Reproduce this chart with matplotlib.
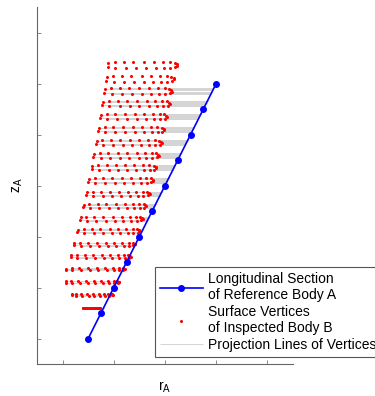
import numpy as np
import matplotlib.pyplot as plt
from matplotlib.collections import LineCollection

plt.rcParams['font.family'] = ['Liberation Sans', 'DejaVu Sans']
plt.rcParams['mathtext.default'] = 'regular'


# ---------------- BODY A: LONGITUDINAL SECTION ---------------- #
section_r = [1.5, 1.75, 2.0, 2.25, 2.5, 2.75, 3.0, 3.25, 3.5, 3.75, 4.0]
section_z = [1.0, 1.5, 2.0, 2.5, 3.0, 3.5, 4.0, 4.5, 5.0, 5.5, 6.0]

# ---------------- BODY B: RINGS OF SURFACE VERTICES ---------------- #
ring_z = [6.36, 6.09, 5.85, 5.61, 5.35, 5.09, 4.84, 4.59, 4.35, 4.10,
          3.84, 3.60, 3.35, 3.11, 2.85, 2.61, 2.36, 2.11, 1.86, 1.60]
ring_r_min = [1.88, 1.85, 1.81, 1.77, 1.73, 1.69, 1.65, 1.60, 1.57, 1.50,
              1.46, 1.40, 1.34, 1.29, 1.22, 1.16, 1.06, 1.06, 1.18, 1.40]
ring_r_max = [3.24, 3.18, 3.14, 3.09, 3.04, 2.99, 2.94, 2.88, 2.83, 2.77,
              2.70, 2.63, 2.57, 2.50, 2.42, 2.33, 2.22, 2.11, 1.98, 1.73]
ring_tilt = [0.055, 0.055, 0.055, 0.055, 0.055, 0.05, 0.05, 0.05, 0.05, 0.05,
             0.04, 0.04, 0.04, 0.04, 0.03, 0.03, 0.02, 0.02, 0.02, 0.006]

# where the 20 vertices of a ring sit (0 = inner end, 1 = outer end)
vertex_u = [0.01, 0.10, 0.23, 0.37, 0.52, 0.66, 0.79, 0.89, 0.96, 0.99,
            1.00, 0.97, 0.90, 0.81, 0.69, 0.55, 0.41, 0.26, 0.11, 0.00]
vertex_dz = [0.6, 1, 1, 1, 1, 1, 1, 1, 0.8, 0.3,
             -0.2, -0.8, -1, -1, -1, -1, -1, -1, -1, -0.6]

labels = ["Longitudinal Section\nof Reference Body A",
          "Surface Vertices\nof Inspected Body B",
          "Projection Lines of Vertices"]


# ---------------- VERTICES ---------------- #
u = np.array(vertex_u)
dz = np.array(vertex_dz)
pts_r, pts_z = [], []
for z, r0, r1, t in zip(ring_z, ring_r_min, ring_r_max, ring_tilt):
    pts_r.append(r0 + u * (r1 - r0))
    pts_z.append(z + dz * t)
pts_r = np.concatenate(pts_r)
pts_z = np.concatenate(pts_z)

# projection of each vertex onto the section (same height)
inside = (pts_z >= section_z[0]) & (pts_z <= section_z[-1])
proj_r = np.interp(pts_z[inside], section_z, section_r)
segments = [[(r, z), (pr, z)] for r, z, pr in zip(pts_r[inside], pts_z[inside], proj_r)]


# ---------------- FIGURE ---------------- #
fig = plt.figure(figsize=(3.75, 3.96), dpi=100)
ax = fig.add_axes([37 / 375, 32 / 396, 256 / 375, 357 / 396])

proj = LineCollection(segments, colors="#d4d4d4", linewidths=0.7, zorder=1,
                      label=labels[2])
ax.add_collection(proj)

sec, = ax.plot(section_r, section_z, color="#0000ff", lw=1.2, marker="o",
               markersize=4, zorder=3, label=labels[0])
dots, = ax.plot(pts_r, pts_z, ls="none", marker="o", markersize=2.2,
                markeredgewidth=0, color="#ff0000", zorder=2, label=labels[1])

ax.set_xlim(0.5, 5.5)
ax.set_ylim(0.5, 7.5)
ax.set_xticks([1, 2, 3, 4, 5])
ax.set_yticks([1, 2, 3, 4, 5, 6, 7])
ax.set_xticklabels([])
ax.set_yticklabels([])
ax.tick_params(direction="in", length=3, color="#777777", width=0.6)

for side in ["top", "right"]:
    ax.spines[side].set_visible(False)
for side in ["left", "bottom"]:
    ax.spines[side].set_color("#666666")
    ax.spines[side].set_linewidth(0.8)

ax.set_xlabel("r$_A$", fontsize=10, labelpad=8)
ax.set_ylabel("z$_A$", fontsize=10, labelpad=5)

leg = ax.legend(handles=[sec, dots, proj], loc="lower left",
                bbox_to_anchor=(155 / 375, 39 / 396), bbox_transform=fig.transFigure,
                borderaxespad=0, fontsize=10, fancybox=False, framealpha=1,
                edgecolor="#555555", handlelength=3.1, handletextpad=0.35,
                labelspacing=0.2, borderpad=0.35, numpoints=1)
leg.get_frame().set_linewidth(0.8)

fig.savefig("out.png", dpi=100)
